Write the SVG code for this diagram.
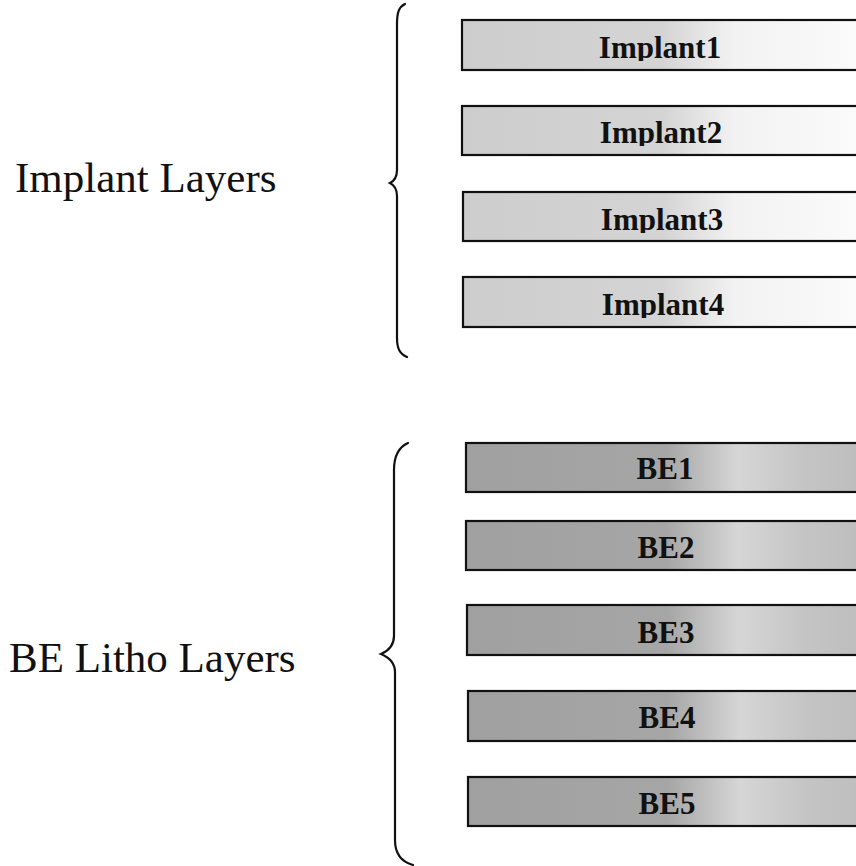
<svg xmlns="http://www.w3.org/2000/svg" width="856" height="866" viewBox="0 0 856 866">
<style>
.brace{fill:none;stroke:#111;stroke-width:2.2;stroke-linecap:round}
.box{stroke:#111;stroke-width:2.2}
.imp{fill:url(#gImp)}
.be{fill:url(#gBE)}
.lbl{font-family:"Liberation Serif","Times New Roman",serif;font-weight:bold;font-size:31px;fill:#111;text-anchor:middle}
.grp{font-family:"Liberation Serif","Times New Roman",serif;font-size:43px;fill:#111}
</style>
<defs>
<linearGradient id="gImp" x1="0" y1="0" x2="1" y2="0">
<stop offset="0" stop-color="#cdcdcd"/>
<stop offset="0.5" stop-color="#d4d4d4"/>
<stop offset="0.68" stop-color="#f2f2f2"/>
<stop offset="1" stop-color="#fbfbfb"/>
</linearGradient>
<linearGradient id="gBE" x1="0" y1="0" x2="1" y2="0">
<stop offset="0" stop-color="#a0a0a0"/>
<stop offset="0.5" stop-color="#a6a6a6"/>
<stop offset="0.68" stop-color="#d6d6d6"/>
<stop offset="0.85" stop-color="#c4c4c4"/>
<stop offset="1" stop-color="#bdbdbd"/>
</linearGradient>
<clipPath id="c1"><rect x="0" y="0" width="856" height="61"/></clipPath>
<clipPath id="c2"><rect x="0" y="100" width="856" height="46"/></clipPath>
<clipPath id="c3"><rect x="0" y="186" width="856" height="47"/></clipPath>
<clipPath id="c4"><rect x="0" y="271" width="856" height="47"/></clipPath>
</defs>
<rect width="856" height="866" fill="#fff"/>

<g id="connectors">
<path id="brace-implant" class="brace" d="M 405 4 C 399 7, 397 12, 397 24 L 397 170 C 397 177, 394 181, 390 183 C 394 185, 397 189, 397 196 L 397 338 C 397 349, 400 354, 407 357"/>
<path id="brace-be" class="brace" d="M 408 443 C 399 447, 394 455, 394 470 L 394 636 C 394 645, 388 651, 381 654 C 388 657, 395 663, 395 672 L 395 840 C 395 855, 402 862, 413 865"/>
</g>

<g id="label-implant-layers"><text class="grp" x="15" y="192">Implant Layers</text></g>
<g id="label-be-layers"><text class="grp" x="9" y="672">BE Litho Layers</text></g>

<g id="implant1"><rect class="box imp" x="462" y="20" width="400" height="50"/><text class="lbl" x="660" y="58" clip-path="url(#c1)">Implant1</text></g>
<g id="implant2"><rect class="box imp" x="462" y="106" width="400" height="49"/><text class="lbl" x="661" y="143" clip-path="url(#c2)">Implant2</text></g>
<g id="implant3"><rect class="box imp" x="463" y="192" width="400" height="49"/><text class="lbl" x="662" y="230" clip-path="url(#c3)">Implant3</text></g>
<g id="implant4"><rect class="box imp" x="463" y="277" width="400" height="50"/><text class="lbl" x="663" y="315" clip-path="url(#c4)">Implant4</text></g>

<g id="be1"><rect class="box be" x="466" y="443" width="400" height="49"/><text class="lbl" x="665" y="479">BE1</text></g>
<g id="be2"><rect class="box be" x="466" y="521" width="400" height="49"/><text class="lbl" x="666" y="558">BE2</text></g>
<g id="be3"><rect class="box be" x="467" y="605" width="400" height="50"/><text class="lbl" x="666" y="643">BE3</text></g>
<g id="be4"><rect class="box be" x="468" y="691" width="400" height="50"/><text class="lbl" x="667" y="728">BE4</text></g>
<g id="be5"><rect class="box be" x="468" y="777" width="400" height="49"/><text class="lbl" x="667" y="814">BE5</text></g>
</svg>
